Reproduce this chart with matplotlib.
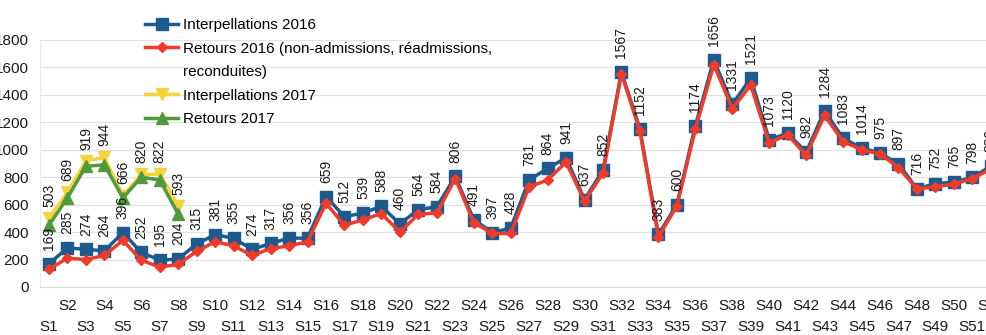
import matplotlib
matplotlib.use("Agg")
import matplotlib.pyplot as plt
from matplotlib.lines import Line2D

plt.rcParams['font.family'] = ['Liberation Sans', 'DejaVu Sans']

# weekly figures (S1..S52)
weeks = ["S%d" % i for i in range(1, 53)]

interp_2016 = [169, 285, 274, 264, 396, 252, 195, 204, 315, 381,
               355, 274, 317, 356, 356, 659, 512, 539, 588, 460,
               564, 584, 806, 491, 397, 428, 781, 864, 941, 637,
               852, 1567, 1152, 383, 600, 1174, 1656, 1331, 1521, 1073,
               1120, 982, 1284, 1083, 1014, 975, 897, 716, 752, 765,
               798, 880]
retours_2016 = [130, 210, 200, 230, 340, 195, 145, 165, 260, 330,
                300, 230, 280, 300, 330, 610, 450, 490, 535, 400,
                530, 540, 790, 470, 390, 390, 730, 780, 910, 625,
                830, 1555, 1135, 365, 590, 1150, 1620, 1300, 1470, 1050,
                1110, 960, 1250, 1060, 1000, 970, 870, 715, 730, 750,
                790, 860]
interp_2017 = [503, 689, 919, 944, 666, 820, 822, 593]
retours_2017 = [450, 650, 880, 890, 650, 800, 780, 530]

y_ticks = [0, 200, 400, 600, 800, 1000, 1200, 1400, 1600, 1800]

blue = '#1D5A8E'
red = '#F03B2A'
yellow = '#F4D43A'
green = '#4E9A3C'

fig = plt.figure(figsize=(9.87, 3.35), dpi=100)
ax = fig.add_axes([0.0403, 0.1433, 0.9729, 0.7373])

x16 = list(range(1, len(interp_2016) + 1))
x17 = list(range(1, len(interp_2017) + 1))

ax.plot(x16, interp_2016, '-', color=blue, lw=2.5, marker='s', ms=8,
        label='Interpellations 2016', zorder=3)
ax.plot(x16, retours_2016, '-', color=red, lw=2.5, marker='D', ms=5,
        label='Retours 2016 (non-admissions, réadmissions,', zorder=4)
ax.plot(x17, interp_2017, '-', color=yellow, lw=2.5, marker='v', ms=9,
        label='Interpellations 2017', zorder=5)
ax.plot(x17, retours_2017, '-', color=green, lw=2.5, marker='^', ms=8,
        label='Retours 2017', zorder=6)

# vertical value labels above the interpellation points
for xi, v in zip(x16, interp_2016):
    ax.annotate(str(v), (xi, v), xytext=(0, 10), textcoords='offset points',
                rotation=90, ha='center', va='bottom', fontsize=10,
                color='#1a1a1a', zorder=7)
for xi, v in zip(x17, interp_2017):
    ax.annotate(str(v), (xi, v), xytext=(0, 8), textcoords='offset points',
                rotation=90, ha='center', va='bottom', fontsize=10,
                color='#1a1a1a', zorder=7)

ax.set_xlim(0.5, 52.5)
ax.set_ylim(0, 1800)
ax.set_yticks(y_ticks)
ax.set_yticklabels([str(t) for t in y_ticks])

# staggered week labels: even weeks on the first row, odd weeks below
even = [i for i in x16 if i % 2 == 0]
odd = [i for i in x16 if i % 2 == 1]
ax.set_xticks(even)
ax.set_xticklabels([weeks[i - 1] for i in even])
ax.set_xticks(odd, minor=True)
ax.set_xticklabels([weeks[i - 1] for i in odd], minor=True)

ax.tick_params(axis='x', which='major', length=0, pad=9, labelsize=11, colors='#1a1a1a')
ax.tick_params(axis='x', which='minor', length=0, pad=24, labelsize=11, colors='#1a1a1a')
ax.tick_params(axis='y', length=0, pad=8, labelsize=11, colors='#1a1a1a')

ax.grid(axis='y', color='#e2e2e2', lw=0.9)
ax.set_axisbelow(True)
for s in ['top', 'right']:
    ax.spines[s].set_visible(False)
ax.spines['left'].set_color('#ececec')
ax.spines['bottom'].set_color('#d8d8d8')

# legend, with the wrapped second line of the red entry as a blank-handle row
handles, labels = ax.get_legend_handles_labels()
handles.insert(2, Line2D([], [], color='none'))
labels.insert(2, 'reconduites)')
leg = fig.legend(handles, labels, loc='upper left', bbox_to_anchor=(0.139, 0.968),
                 frameon=False, fontsize=11, handlelength=2.2, handletextpad=0.3,
                 labelspacing=0.62, borderpad=0)

fig.savefig('out.png', dpi=100)
